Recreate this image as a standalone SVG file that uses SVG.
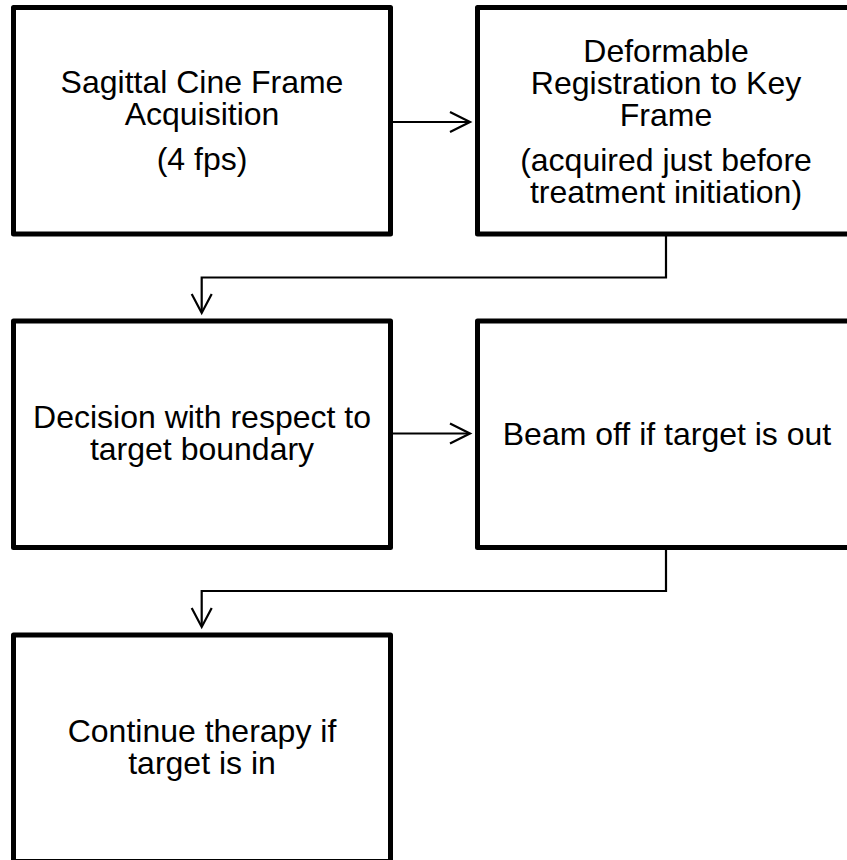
<svg xmlns="http://www.w3.org/2000/svg" width="847" height="860" viewBox="0 0 847 860">
  <defs>
    <style>
      .box { fill: #ffffff; stroke: #000000; stroke-width: 5; stroke-linejoin: round; }
      .label { font-family: "Liberation Sans", Arial, sans-serif; font-size: 32px; fill: #000000; text-anchor: middle; }
      .wire { fill: none; stroke: #000000; stroke-width: 2.2; stroke-linejoin: miter; }
      .head { fill: none; stroke: #000000; stroke-width: 2.2; stroke-linecap: butt; stroke-linejoin: miter; }
    </style>
  </defs>
  <rect x="0" y="0" width="847" height="860" fill="#ffffff"/>

  <g id="acquisition">
    <rect class="box" x="13.5" y="7.5" width="377" height="226.5"/>
    <text class="label" x="202" y="93">Sagittal Cine Frame<tspan x="202" dy="32">Acquisition</tspan><tspan x="202" dy="45">(4 fps)</tspan></text>
  </g>

  <g id="registration">
    <rect class="box" x="477.5" y="7.5" width="377" height="226.5"/>
    <text class="label" x="666" y="62">Deformable<tspan x="666" dy="32">Registration to Key</tspan><tspan x="666" dy="32">Frame</tspan><tspan x="666" dy="45">(acquired just before</tspan><tspan x="666" dy="32">treatment initiation)</tspan></text>
  </g>

  <g id="decision">
    <rect class="box" x="13.5" y="321" width="377" height="226.5"/>
    <text class="label" x="202" y="428">Decision with respect to<tspan x="202" dy="32">target boundary</tspan></text>
  </g>

  <g id="beam-off">
    <rect class="box" x="477.5" y="321" width="377" height="226.5"/>
    <text class="label" x="667" y="445">Beam off if target is out</text>
  </g>

  <g id="continue">
    <rect class="box" x="13.5" y="635" width="377" height="226.5"/>
    <text class="label" x="202" y="742">Continue therapy if<tspan x="202" dy="32">target is in</tspan></text>
  </g>

  <g id="connectors">
    <!-- acquisition -> registration -->
    <path class="wire" d="M393 122 H469"/>
    <path class="head" d="M450 112 L470 122 L450 132"/>
    <!-- registration -> decision -->
    <path class="wire" d="M666 236 V277.5 H201.7 V312"/>
    <path class="head" d="M191.7 294 L201.7 313 L211.7 294"/>
    <!-- decision -> beam off -->
    <path class="wire" d="M393 433.5 H469"/>
    <path class="head" d="M450 423.5 L470 433.5 L450 443.5"/>
    <!-- beam off -> continue -->
    <path class="wire" d="M666 549.5 V591 H201.7 V626"/>
    <path class="head" d="M191.7 608 L201.7 627 L211.7 608"/>
  </g>
</svg>
